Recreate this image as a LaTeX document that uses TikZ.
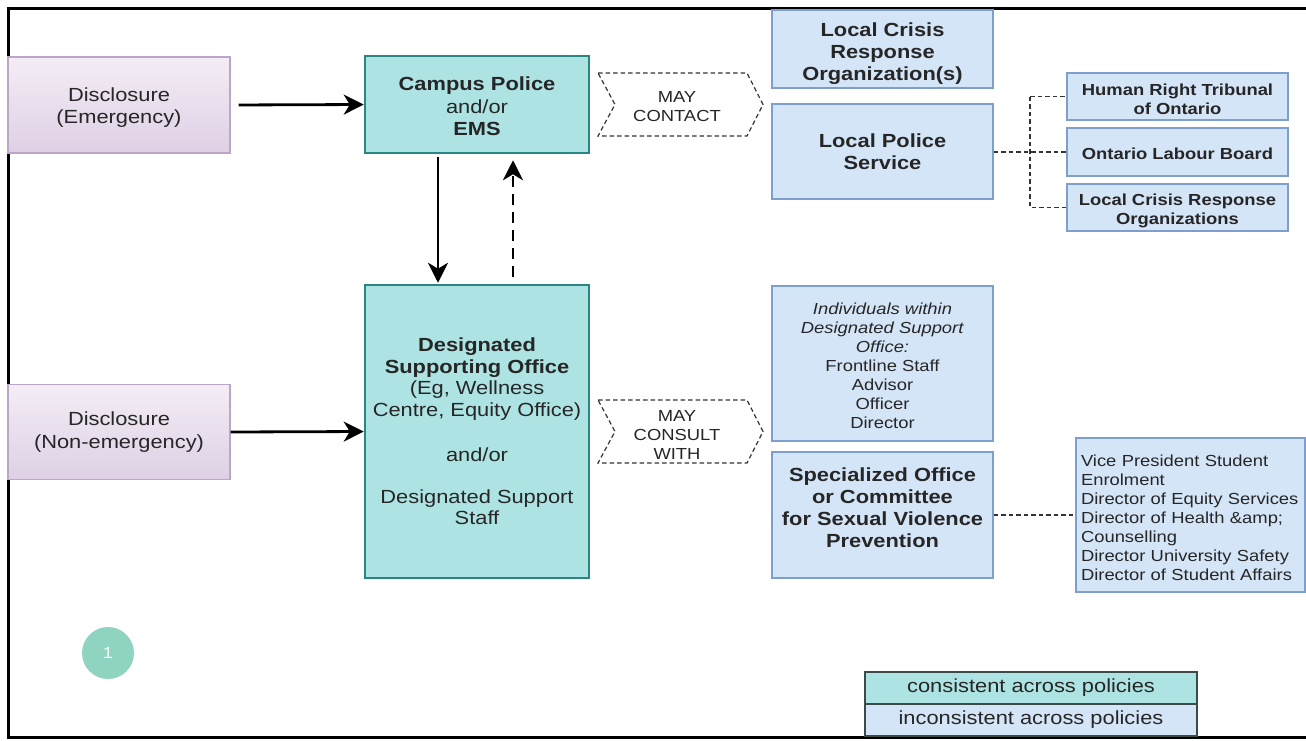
\documentclass[tikz,border=0pt]{standalone}
\usepackage{fontspec}
\setmainfont{Liberation Sans}[FakeStretch=1.15]
\usetikzlibrary{arrows.meta,calc}
\definecolor{tealfill}{HTML}{AEE3E3}
\definecolor{tealdraw}{HTML}{2B8585}
\definecolor{bluefill}{HTML}{D5E5F8}
\definecolor{bluedraw}{HTML}{7E9FCB}
\definecolor{purptop}{HTML}{F4EDF5}
\definecolor{purpbot}{HTML}{DDD0E5}
\definecolor{purpdraw}{HTML}{BBA6C8}
\definecolor{circfill}{HTML}{8FD4C1}
\definecolor{legdraw}{HTML}{3C4A4A}
\newcommand{\topgap}[1]{\rule{0pt}{0pt}\\[#1]}
\begin{document}
\begin{tikzpicture}[x=1pt,y=-1pt,
  box/.style={rectangle, align=center, inner sep=2pt, text=black!85},
  tealbox/.style={box, fill=tealfill, draw=tealdraw, line width=2.5pt},
  bluebox/.style={box, fill=bluefill, draw=bluedraw, line width=1.3pt},
  purpbox/.style={box, top color=purptop, bottom color=purpbot, draw=purpdraw, line width=1.3pt},
  big/.style={font=\fontsize{19}{22.5}\selectfont},
  mid/.style={font=\fontsize{16}{19}\selectfont},
  leg/.style={font=\fontsize{19}{22}\selectfont},
  flow/.style={line width=2.8pt, -{Stealth[length=20pt,width=20pt,inset=6pt]}},
  dflow/.style={flow, dash pattern=on 11pt off 7pt},
  chev/.style={draw=black!80, line width=1.2pt, dash pattern=on 4.5pt off 3pt},
  dline/.style={draw=black!80, line width=1.3pt, dash pattern=on 4.5pt off 3pt},
]
\useasboundingbox (0,0) rectangle (1306,740);
\fill[white] (0,0) rectangle (1306,740);
% frame
\draw[line width=3pt] (1306,8) -- (8,8) -- (8,737) -- (1306,737);

% left column
\node[purpbox, big, minimum width=222pt, minimum height=96pt] (de) at (119,105) {\topgap{-3.5pt}Disclosure\\(Emergency)};
\node[purpbox, big, minimum width=222pt, minimum height=95pt] (dn) at (119,432) {Disclosure\\(Non-emergency)};

% teal boxes
\node[tealbox, big, minimum width=224pt, minimum height=97pt] (cp) at (477,104.5)
  {\topgap{-4.5pt}\textbf{Campus Police}\\and/or\\\textbf{EMS}};
\node[tealbox, big, minimum width=224pt, minimum height=293pt, font=\fontsize{19}{21.5}\selectfont] (dso) at (477,431.5)
  {\textbf{Designated}\\\textbf{Supporting Office}\\(Eg, Wellness\\Centre, Equity Office)\\[24pt]and/or\\[20pt]Designated Support\\Staff};

% arrows
\draw[flow, shorten <=8pt] (de.east) -- (cp.west);
\draw[flow] (dn.east) -- (dso.west);
\draw[flow, shorten <=3pt, shorten >=1pt] ([xshift=-39pt]cp.south) -- ([xshift=-39pt]dso.north);
\draw[dflow, shorten <=7pt, shorten >=6pt] ([xshift=36pt]dso.north) -- ([xshift=36pt]cp.south);

% chevrons
\node[mid, align=center, text=black!85] (contact) at (677,107) {MAY\\CONTACT};
\draw[chev] (598,73) -- (747,73) -- (763,104.5) -- (747,136) -- (598,136) -- (615,104.5) -- cycle;
\node[mid, align=center, text=black!85] (consult) at (677,435) {MAY\\CONSULT\\WITH};
\draw[chev] (598,400) -- (747,400) -- (763,431.5) -- (747,463) -- (598,463) -- (615,431.5) -- cycle;

% blue boxes, upper
\node[bluebox, minimum width=221pt, minimum height=78pt, font=\bfseries\fontsize{19}{22}\selectfont] (lcro) at (882.5,49)
  {\topgap{2pt}Local Crisis\\Response\\Organization(s)};
\node[bluebox, minimum width=221pt, minimum height=95pt, font=\bfseries\fontsize{19}{22}\selectfont] (lps) at (882.5,151.5)
  {Local Police\\Service};
\node[bluebox, minimum width=221pt, minimum height=47pt, font=\bfseries\fontsize{16}{19}\selectfont] (hrt) at (1177.5,96.5)
  {\topgap{-1pt}Human Right Tribunal\\of Ontario};
\node[bluebox, minimum width=221pt, minimum height=48pt, font=\bfseries\fontsize{16}{19}\selectfont] (olb) at (1177.5,152)
  {\topgap{-3pt}Ontario Labour Board};
\node[bluebox, minimum width=221pt, minimum height=47pt, font=\bfseries\fontsize{16}{19}\selectfont] (lcros) at (1177.5,207.5)
  {\topgap{0pt}Local Crisis Response\\Organizations};

\coordinate (jn) at (1030,152);
\draw[dline] (lps.east |- olb.west) -- (olb.west);
\draw[dline] (jn |- hrt.west) -- (hrt.west);
\draw[dline] (jn |- hrt.west) -- (jn |- lcros.west) -- (lcros.west);

% blue boxes, lower
\node[bluebox, mid, minimum width=221pt, minimum height=155pt] (ind) at (882.5,363.5)
  {\topgap{-2pt}\textit{Individuals within}\\\textit{Designated Support}\\\textit{Office:}\\Frontline Staff\\Advisor\\Officer\\Director};
\node[bluebox, minimum width=221pt, minimum height=126pt, font=\bfseries\fontsize{19}{22}\selectfont] (spec) at (882.5,515)
  {Specialized Office\\or Committee\\for Sexual Violence\\Prevention\\[-8pt]};
\node[bluebox, mid, minimum width=229pt, minimum height=154pt, align=left, text width=219pt] (vp) at (1190.5,515)
  {\topgap{-1pt}Vice President Student\\Enrolment\\Director of Equity Services\\Director of Health \&amp;\\Counselling\\Director University Safety\\Director of Student Affairs};
\draw[dline] (spec.east) -- (vp.west);

% circle
\node[circle, fill=circfill, minimum size=52pt, inner sep=0pt, text=white!90!circfill, font=\fontsize{16}{16}\selectfont] (one) at (108,653) {1};

% legend
\node[box, leg, fill=tealfill, draw=legdraw, line width=1.2pt, minimum width=332pt, minimum height=32pt] (lc) at (1031,688) {consistent across policies};
\node[box, leg, fill=bluefill, draw=legdraw, line width=1.2pt, minimum width=332pt, minimum height=32pt] (li) at (1031,720) {inconsistent across policies};
\end{tikzpicture}
\end{document}
